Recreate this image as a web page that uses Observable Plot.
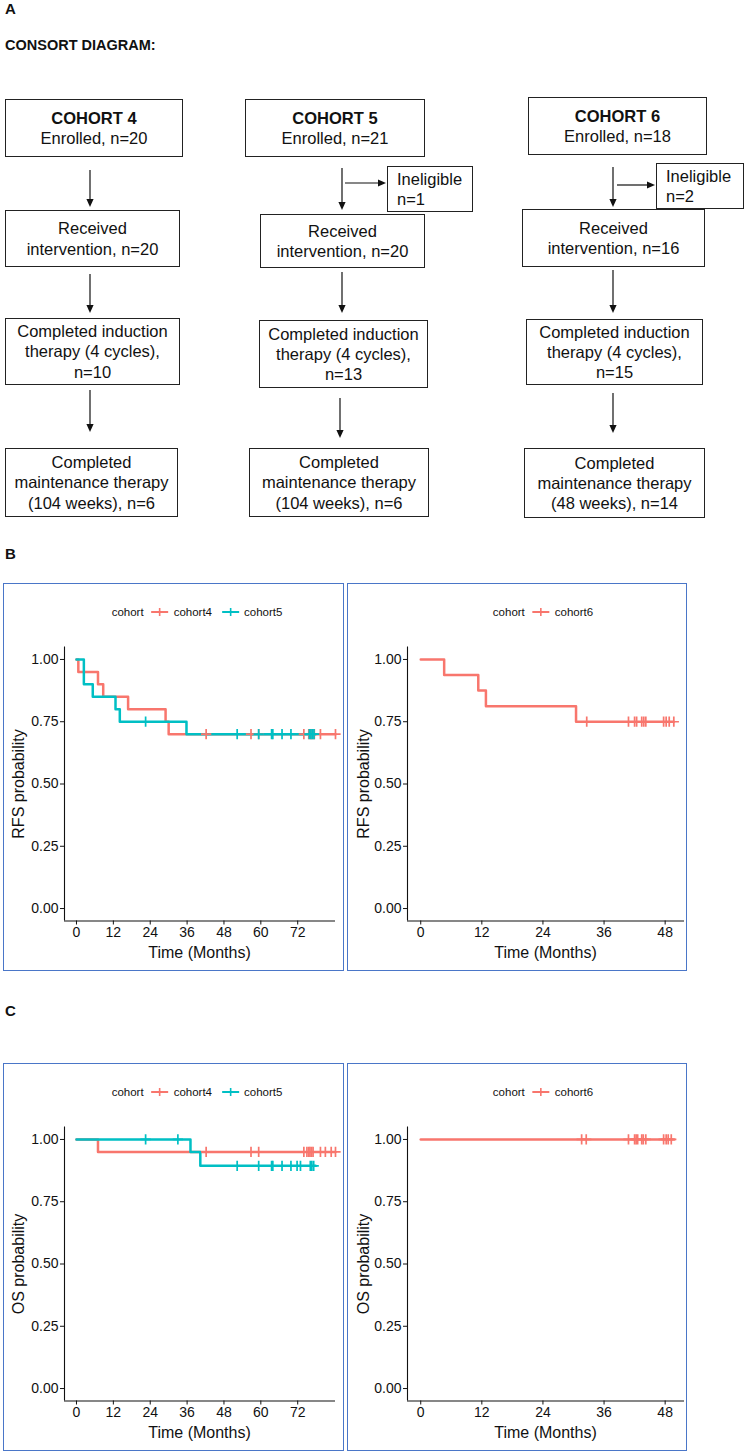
<!DOCTYPE html>
<html><head><meta charset="utf-8">
<script src="https://cdn.jsdelivr.net/npm/d3@7"></script>
<script src="https://cdn.jsdelivr.net/npm/@observablehq/plot@0.6"></script>
<style>
body{margin:0;background:#fff;font-family:"Liberation Sans",Arial,sans-serif;color:#111;}
#page{position:relative;width:745px;height:1455px;overflow:hidden;}
.plabel{position:absolute;font-weight:bold;font-size:15px;}
.box{position:absolute;border:1.3px solid #222;box-sizing:border-box;display:flex;flex-direction:column;justify-content:center;align-items:center;text-align:center;font-size:16.5px;line-height:1.22;}
.inel{align-items:flex-start;text-align:left;padding-left:9px;}
.panel{position:absolute;border:1.4px solid #4a76c8;box-sizing:border-box;}
.legend{position:absolute;transform:translate(-50%,-50%);font-size:11.5px;white-space:nowrap;display:flex;align-items:center;gap:4px;}
.atitle{position:absolute;font-size:16px;white-space:nowrap;transform:translate(-50%,-50%);}
.ytitle{position:absolute;font-size:16px;white-space:nowrap;transform:translate(-50%,-50%) rotate(-90deg);}
</style></head>
<body><div id="page"></div>
<script>
// ---------- CONSORT data ----------
const cohortNames = ["COHORT 4", "COHORT 5", "COHORT 6"];
const enrolledN = [20, 21, 18];
const ineligibleN = [null, 1, 2];
const receivedN = [20, 20, 16];
const inductionN = [10, 13, 15];
const maintenanceWeeks = [104, 104, 48];
const maintenanceN = [6, 6, 14];

// ---------- Kaplan-Meier data (months, survival) ----------
const rfs4Times = [0, 0.6, 7, 8.7, 16.8, 29, 30];
const rfs4Surv  = [1, 0.95, 0.90, 0.85, 0.80, 0.75, 0.70];
const rfs4Censor = [42.2, 56.8, 59.3, 74, 75.6, 76.3, 76.8, 77.4, 79.4, 84.3];
const rfs4End = 84.3;

const rfs5Times = [0, 2.4, 5.3, 12.7, 14.1, 35.8];
const rfs5Surv  = [1, 0.90, 0.85, 0.80, 0.75, 0.70];
const rfs5Censor = [22.5, 52.3, 59.3, 63.5, 63.9, 66.9, 69.8, 75.8, 76.3, 76.8, 77.3];
const rfs5End = 77.8;

const rfs6Times = [0, 4.6, 11.3, 12.8, 30.5];
const rfs6Surv  = [1, 0.9375, 0.875, 0.8125, 0.75];
const rfs6Censor = [32.6, 40.8, 42.0, 42.4, 43.4, 43.8, 44.2, 47.7, 48.2, 48.8, 49.7];
const rfs6End = 49.7;

const os4Times = [0, 7];
const os4Surv  = [1, 0.95];
const os4Censor = [42.2, 56.8, 59.3, 74, 75, 75.6, 76, 76.5, 77, 79.4, 81, 82.9, 84.3];
const os4End = 84.3;

const os5Times = [0, 37.1, 40.3];
const os5Surv  = [1, 0.95, 0.894];
const os5Censor = [22.5, 33, 52.3, 59.3, 63.5, 63.9, 66.9, 69.8, 71.8, 72.9, 76.1, 76.6, 77.2];
const os5End = 77.8;

const os6Times = [0];
const os6Surv  = [1];
const os6Censor = [31.6, 32.5, 40.8, 42.0, 42.3, 42.6, 43.4, 43.7, 44.2, 47.7, 48.2, 48.6, 49.2];
const os6End = 49.8;

const leftTicks = [0, 12, 24, 36, 48, 60, 72];
const rightTicks = [0, 12, 24, 36, 48];
const yTicks = [0, 0.25, 0.5, 0.75, 1];
const seriesColors = {cohort4: "#F8766D", cohort5: "#00BFC4", cohort6: "#F8766D"};

// ---------- layout (positions only) ----------
const page = document.getElementById("page");
function el(tag, cls, style, html) {
  const e = document.createElement(tag);
  if (cls) e.className = cls;
  Object.assign(e.style, style || {});
  if (html != null) e.innerHTML = html;
  page.appendChild(e);
  return e;
}
el("div", "plabel", {left: "5px", top: "0px"}, "A");
el("div", "plabel", {left: "5px", top: "37px", fontSize: "14.5px"}, "CONSORT DIAGRAM:");
el("div", "plabel", {left: "5px", top: "545px"}, "B");
el("div", "plabel", {left: "5px", top: "1002px"}, "C");

const consortLayout = [
  {boxes: [[5,183,99,157],[5,180,210,267],[5,180,318,385],[5,178,448,517]], ax: [90,90,90], arrows: [[170,207],[274,313],[390,432]]},
  {boxes: [[245,425,99,157],[260,425,214,268],[259,428,320,388],[249,429,448,517]], ax: [342,342,340], arrows: [[168,210],[272,313],[398,438]], side: {y:183, x1:345, inel:[387,473,166,212]}},
  {boxes: [[528,707,97,155],[522,705,209,267],[526,703,319,385],[524,705,448,518]], ax: [613,613,613], arrows: [[167,207],[270,313],[393,433]], side: {y:185, x1:617, inel:[656,744,163,209]}}
];
const svgNS = "http://www.w3.org/2000/svg";
const arrowSvg = document.createElementNS(svgNS, "svg");
arrowSvg.setAttribute("width", 745); arrowSvg.setAttribute("height", 540);
arrowSvg.style.position = "absolute"; arrowSvg.style.left = "0"; arrowSvg.style.top = "0";
page.appendChild(arrowSvg);
function arrow(x1, y1, x2, y2) {
  const dx = x2 - x1, dy = y2 - y1, L = Math.hypot(dx, dy), ux = dx / L, uy = dy / L;
  const hl = 8, hw = 3.6;
  const bx = x2 - ux * hl, by = y2 - uy * hl;
  const line = document.createElementNS(svgNS, "line");
  line.setAttribute("x1", x1); line.setAttribute("y1", y1);
  line.setAttribute("x2", bx); line.setAttribute("y2", by);
  line.setAttribute("stroke", "#111"); line.setAttribute("stroke-width", 1.2);
  arrowSvg.appendChild(line);
  const p = document.createElementNS(svgNS, "path");
  p.setAttribute("d", `M${x2},${y2}L${bx - uy * hw},${by + ux * hw}L${bx + uy * hw},${by - ux * hw}Z`);
  p.setAttribute("fill", "#111");
  arrowSvg.appendChild(p);
}
function box(b, html, extraCls) {
  el("div", "box" + (extraCls ? " " + extraCls : ""), {left: b[0] + "px", top: b[2] + "px", width: (b[1] - b[0]) + "px", height: (b[3] - b[2]) + "px"}, html);
}
cohortNames.forEach((name, i) => {
  const L = consortLayout[i];
  box(L.boxes[0], `<b>${name}</b><span>Enrolled, n=${enrolledN[i]}</span>`);
  box(L.boxes[1], `<span>Received</span><span>intervention, n=${receivedN[i]}</span>`);
  box(L.boxes[2], `<span>Completed induction</span><span>therapy (4 cycles),</span><span>n=${inductionN[i]}</span>`);
  box(L.boxes[3], `<span>Completed</span><span>maintenance therapy</span><span>(${maintenanceWeeks[i]} weeks), n=${maintenanceN[i]}</span>`);
  L.arrows.forEach((a, k) => arrow(L.ax[k], a[0], L.ax[k], a[1]));
  if (ineligibleN[i] != null) {
    const s = L.side;
    arrow(s.x1, s.y, s.inel[0] - 1, s.y);
    box(s.inel, `<span>Ineligible</span><span>n=${ineligibleN[i]}</span>`, "inel");
  }
});

// ---------- KM panels ----------
function survAt(times, surv, t) {
  let s = surv[0];
  for (let i = 0; i < times.length; i++) if (times[i] <= t) s = surv[i];
  return s;
}
function mkSeries(name, times, surv, censor, end) {
  return {name, times, surv, censor, end};
}
function legendHtml(names) {
  let h = `<span style="margin-right:3px">cohort</span>`;
  names.forEach(n => {
    const c = seriesColors[n];
    h += `<svg width="19" height="12"><line x1="1" y1="6" x2="18" y2="6" stroke="${c}" stroke-width="2.2"/><line x1="9.5" y1="2" x2="9.5" y2="10" stroke="${c}" stroke-width="1.6"/></svg><span style="margin-right:5px">${n}</span>`;
  });
  return h;
}
function kmPanel(cfg) {
  const lines = [], cens = [];
  cfg.series.forEach(s => {
    s.times.forEach((t, i) => lines.push({cohort: s.name, t, s: s.surv[i]}));
    lines.push({cohort: s.name, t: s.end, s: s.surv[s.surv.length - 1]});
    s.censor.forEach(t => cens.push({cohort: s.name, t, s: survAt(s.times, s.surv, t)}));
  });
  const names = cfg.series.map(s => s.name);
  const plot = Plot.plot({
    width: cfg.width, height: 388,
    marginLeft: cfg.marginLeft, marginRight: cfg.marginRight, marginTop: 63.5, marginBottom: 50.5,
    style: {fontFamily: "Liberation Sans, Arial, sans-serif", fontSize: "14px", color: "#111", background: "transparent", overflow: "visible"},
    x: {domain: cfg.xDomain},
    y: {domain: [-0.05, 1.05]},
    color: {domain: names, range: names.map(n => seriesColors[n])},
    marks: [
      Plot.axisX({ticks: cfg.xTicks, tickSize: 4, tickPadding: 2, label: null, fontSize: 14}),
      Plot.axisY({ticks: yTicks, tickFormat: d3.format(".2f"), tickSize: 4, tickPadding: 2, label: null, fontSize: 14}),
      Plot.ruleX([cfg.xDomain[0]], {stroke: "#111", strokeWidth: 1.1}),
      Plot.ruleY([-0.05], {stroke: "#111", strokeWidth: 1.1}),
      Plot.line(lines, {x: "t", y: "s", z: "cohort", stroke: "cohort", curve: "step-after", strokeWidth: 2.5}),
      Plot.dot(cens, {x: "t", y: "s", stroke: "cohort", symbol: "plus", r: 3.4, strokeWidth: 1.7})
    ]
  });
  plot.style.position = "absolute";
  plot.style.left = cfg.left + "px";
  plot.style.top = cfg.top + "px";
  page.appendChild(plot);
  el("div", "panel", {left: cfg.boxX[0] + "px", top: cfg.top + "px", width: (cfg.boxX[1] - cfg.boxX[0]) + "px", height: "388px"});
  const cx = cfg.left + cfg.marginLeft + (cfg.width - cfg.marginLeft - cfg.marginRight) / 2;
  el("div", "legend", {left: cx + "px", top: (cfg.top + 29) + "px"}, legendHtml(names));
  el("div", "atitle", {left: cx + "px", top: (cfg.top + 370) + "px"}, "Time (Months)");
  el("div", "ytitle", {left: (cfg.left + cfg.yTitleX) + "px", top: (cfg.top + 63.5 + 137) + "px"}, cfg.yLabel);
}

const leftCfg = {left: 0, width: 345, marginLeft: 64, marginRight: 10, xDomain: [-3.9, 84.3], xTicks: leftTicks, boxX: [3, 344], yTitleX: 19};
const rightCfg = {left: 345, width: 345, marginLeft: 62, marginRight: 6, xDomain: [-2.6, 51.8], xTicks: rightTicks, boxX: [347, 687], yTitleX: 19};

kmPanel({...leftCfg, top: 583, yLabel: "RFS probability",
  series: [mkSeries("cohort4", rfs4Times, rfs4Surv, rfs4Censor, rfs4End), mkSeries("cohort5", rfs5Times, rfs5Surv, rfs5Censor, rfs5End)]});
kmPanel({...rightCfg, top: 583, yLabel: "RFS probability",
  series: [mkSeries("cohort6", rfs6Times, rfs6Surv, rfs6Censor, rfs6End)]});
kmPanel({...leftCfg, top: 1063, yLabel: "OS probability",
  series: [mkSeries("cohort4", os4Times, os4Surv, os4Censor, os4End), mkSeries("cohort5", os5Times, os5Surv, os5Censor, os5End)]});
kmPanel({...rightCfg, top: 1063, yLabel: "OS probability",
  series: [mkSeries("cohort6", os6Times, os6Surv, os6Censor, os6End)]});
</script>
</body></html>
